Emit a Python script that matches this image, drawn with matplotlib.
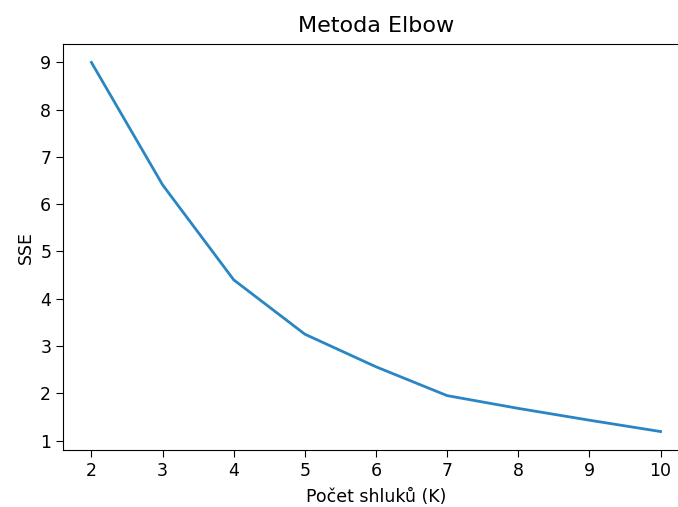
import matplotlib
matplotlib.use("Agg")
import matplotlib.pyplot as plt

k_values = [2, 3, 4, 5, 6, 7, 8, 9, 10]
sse = [9.0, 6.41, 4.40, 3.25, 2.56, 1.95, 1.68, 1.43, 1.19]

fig = plt.figure(figsize=(6.78, 5.07), dpi=100)
ax = fig.add_axes([63/678, (507-450)/507, (689-63)/678, (450-44)/507])
ax.plot(k_values, sse, color="#2a85c4", linewidth=2)
ax.set_title("Metoda Elbow", fontsize=16, pad=9)
ax.set_xlabel("Počet shluků (K)", fontsize=12.5, labelpad=6)
ax.set_ylabel("SSE", fontsize=12.5)
ax.tick_params(labelsize=12.5, length=5)
ax.set_yticks(range(1, 10))
ax.set_xticks(range(2, 11))
fig.savefig("out.png", dpi=100)
